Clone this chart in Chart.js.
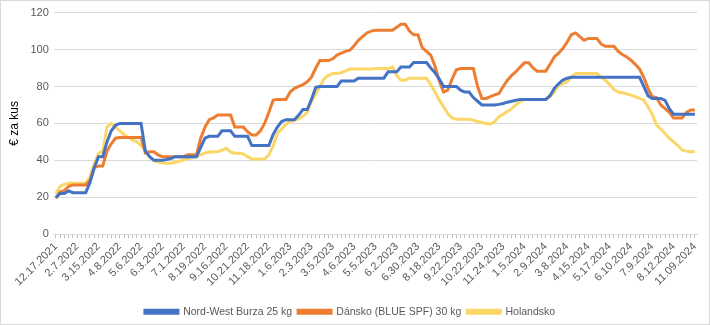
<!DOCTYPE html>
<html>
<head>
<meta charset="utf-8">
<script src="https://cdn.jsdelivr.net/npm/chart.js@4"></script>
<style>
  body { margin: 0; background: #fff; }
  #wrap { width: 710px; height: 325px; box-sizing: border-box; border: 1px solid #d9d9d9; position: relative; }
</style>
</head>
<body>
<div id="wrap"><canvas id="myChart"></canvas></div>
<script>
// popisky osy x (kazdy 5. tyden)
var tickLabels = ["12.17.2021", "2.7.2022", "3.15.2022", "4.8.2022", "5.6.2022", "6.3.2022", "7.1.2022",
  "8.19.2022", "9.16.2022", "10.21.2022", "11.18.2022", "1.6.2023", "2.3.2023", "3.5.2023", "4.6.2023",
  "5.5.2023", "6.2.2023", "6.30.2023", "8.18.2023", "9.22.2023", "10.22.2023", "11.24.2023", "1.5.2024",
  "2.9.2024", "3.8.2024", "4.15.2024", "5.17.2024", "6.10.2024", "7.9.2024", "8.12.2024", "11.09.2024"];

var seriesNames = ["Nord-West Burza 25 kg", "Dánsko (BLUE SPF) 30 kg", "Holandsko"];

var nordWest = [
  20, 22, 22, 23.5, 22.5, 22.5, 22.5, 22.5, 28, 36,
  42, 42, 50, 56, 59, 60, 60, 60, 60, 60,
  60, 45, 42, 40, 40, 40, 40.5, 41, 42, 42,
  42, 42, 42, 42, 47, 52, 53, 53, 53, 56,
  56, 56, 53, 53, 53, 53, 48, 48, 48, 48,
  48, 54, 58, 61, 62, 62, 62, 64.5, 67.5, 67.5,
  73, 79.5, 80, 80, 80, 80, 80, 83, 83, 83,
  83, 84.5, 84.5, 84.5, 84.5, 84.5, 84.5, 84.5, 88, 88,
  88, 90.5, 90.5, 90.5, 93, 93, 93, 93, 90, 87.5,
  84, 80, 80, 80, 80, 78, 77, 77, 74, 72,
  70, 70, 70, 70, 70.3, 70.8, 71.5, 72, 72.5, 73,
  73, 73, 73, 73, 73, 73, 75, 79, 81.5, 83.5,
  84.5, 85, 85, 85, 85, 85, 85, 85, 85, 85,
  85, 85, 85, 85, 85, 85, 85, 85, 80, 75,
  73.5, 73.5, 73.5, 72.5, 68, 65, 65, 65, 65, 65, 65
];

var dansko = [
  19.5, 23, 23.6, 26, 26.7, 26.7, 26.7, 26.7, 29, 36,
  37, 37, 45, 49, 52, 52.4, 52.4, 52.4, 52.4, 52.4,
  52.4, 44, 44.7, 44.7, 43, 42, 42, 42, 42, 42,
  42, 43, 43, 43, 52, 58, 62, 63, 64.5, 64.5,
  64.5, 64.5, 58, 58, 58, 55.5, 53.7, 53.7, 56, 60,
  66, 72.6, 73, 73, 73, 77, 79, 80, 81, 82.5,
  85, 90, 94.2, 94, 94, 95, 97, 98, 99, 99.6,
  102, 105, 107, 109, 110, 110.5, 110.5, 110.5, 110.5, 110.5,
  112, 113.7, 113.7, 110, 108, 108, 101, 99, 97, 91,
  83, 77, 78, 84, 89, 89.7, 89.7, 89.7, 89.7, 80,
  73.5, 73.5, 74.5, 75.5, 76.2, 80, 83.4, 86, 88, 90.5,
  92.8, 92.8, 90, 88.3, 88.3, 88.3, 92, 96, 98, 100.5,
  104, 108, 109, 107, 105, 106, 106, 106, 103, 101.8,
  101.8, 101.8, 99, 97.3, 96, 94.2, 92, 89.5, 85, 79,
  74.4, 74, 70, 68, 66, 63, 63, 63, 66, 67.2, 67.2
];

var holandsko = [
  22, 26, 27, 27.6, 27.6, 27.6, 27.6, 27.6, 31, 38,
  43.8, 45, 58, 60, 58, 56, 54, 52.5, 51, 50,
  48, 46, 42, 40, 39, 38.7, 38.5, 38.4, 39, 39.5,
  40.2, 41, 41.5, 42, 43, 44, 44.5, 44.7, 44.7, 45.5,
  46.5, 44.5, 43.8, 43.8, 43.5, 42, 40.7, 40.7, 40.7, 40.7,
  43, 48, 54.6, 57, 59.6, 61, 61.8, 62.5, 64, 66,
  72, 76, 80, 84.3, 86, 87, 87, 87.5, 88.5, 89.4,
  89.4, 89.4, 89.4, 89.4, 89.4, 89.7, 89.7, 89.7, 89.7, 90.6,
  86, 83.4, 83.4, 84.5, 84.5, 84.5, 84.5, 84.5, 81, 77,
  72.6, 69, 65.4, 63, 62.2, 62.2, 62.2, 62.2, 61.8, 61,
  60.5, 60, 59.6, 61, 63.6, 65, 66.5, 68, 70, 72,
  73, 73, 73, 73, 73, 73, 74.5, 77, 80.7, 81.5,
  82.5, 85, 87, 87, 87, 87, 87, 87, 85, 83.4,
  81, 78.4, 77, 76.6, 76, 75.3, 74.5, 73.5, 72.6, 69,
  65, 59.1, 57, 54.5, 51.9, 50, 48, 45.6, 45, 44.7, 44.7
];

// tydny - popisek jen u kazdeho 5.
var categories = [];
for (var i = 0; i < nordWest.length; i++) {
  if (i % 5 == 0) {
    categories.push(tickLabels[i / 5]);
  } else {
    categories.push("");
  }
}

var colors = ["#4472C4", "#ED7D31", "#FAD766"];
var values = [nordWest, dansko, holandsko];

var datasets = [];
for (var s = 0; s < values.length; s++) {
  datasets.push({
    label: seriesNames[s],
    data: values[s],
    borderColor: colors[s],
    backgroundColor: colors[s],
    borderWidth: 3,
    pointRadius: 0,
    tension: 0
  });
}

Chart.defaults.font.family = "'Liberation Sans', Arial, sans-serif";
Chart.defaults.color = "#595959";

var ctx = document.getElementById("myChart");

new Chart(ctx, {
  type: 'line',
  data: {
    labels: categories,
    datasets: datasets
  },
  options: {
    responsive: true,
    maintainAspectRatio: false,
    animation: false,
    layout: { padding: { left: 2, right: 12, top: 3, bottom: -3 } },
    plugins: {
      legend: {
        position: 'bottom',
        labels: {
          boxWidth: 33,
          boxHeight: 3,
          padding: 6,
          font: { size: 10.5 },
          color: "#595959"
        }
      },
      tooltip: { enabled: false }
    },
    scales: {
      x: {
        offset: true,
        grid: {
          drawOnChartArea: false,
          tickLength: 4,
          color: "#bfbfbf"
        },
        border: { color: "#d9d9d9" },
        ticks: {
          autoSkip: false,
          maxRotation: 45,
          minRotation: 45,
          font: { size: 11 },
          padding: 2
        },
        // misto mezi popisky a legendou
        afterFit: function (scale) {
          scale.height += 10;
        }
      },
      y: {
        min: 0,
        max: 120,
        grid: {
          color: "#d9d9d9",
          drawTicks: false
        },
        border: { display: false },
        ticks: {
          stepSize: 20,
          padding: 5,
          font: { size: 11 }
        },
        title: {
          display: true,
          text: "€ za kus",
          color: "#000",
          font: { size: 12 }
        }
      }
    }
  }
});
</script>
</body>
</html>
